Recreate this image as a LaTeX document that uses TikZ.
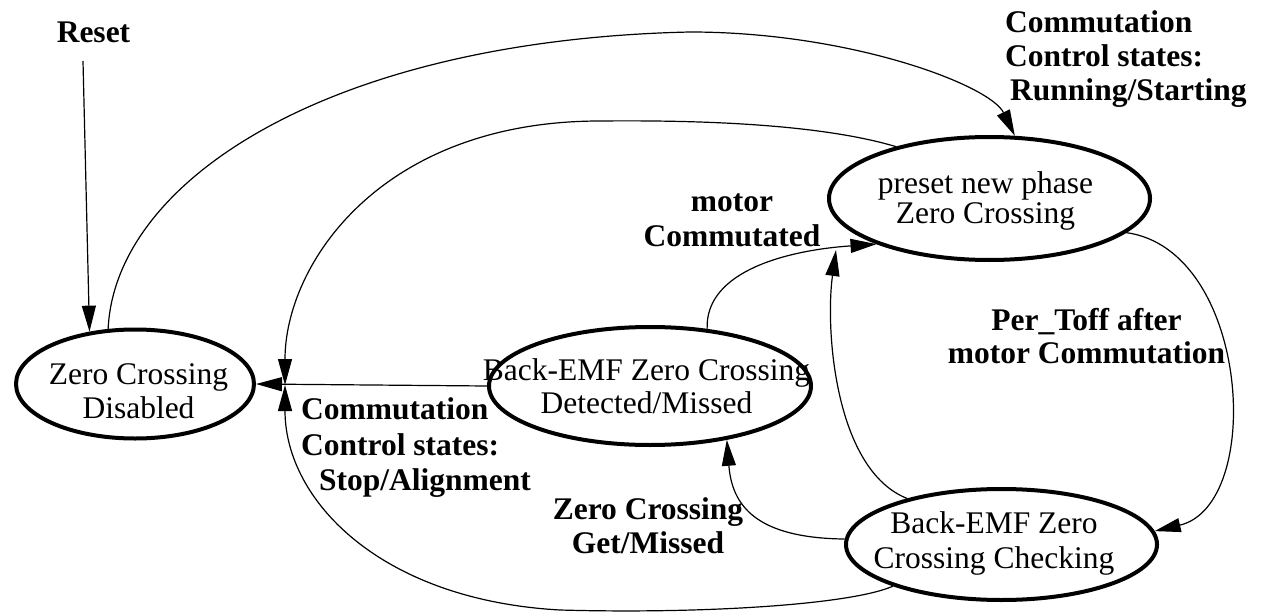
\documentclass[tikz,border=0pt]{standalone}
\usepackage{fontspec}
\setmainfont{Liberation Serif}
\usetikzlibrary{arrows.meta,shapes.geometric}
\tikzset{
  state/.style={ellipse, draw, line width=4pt, inner sep=0pt},
  txt/.style={inner sep=0pt, align=center, font=\fontsize{31.5}{#1}\selectfont},
  txt/.default=34,
  lbl/.style={inner sep=0pt, align=center, font=\fontsize{31.5}{#1}\selectfont\bfseries},
  lbl/.default=34,
  conn/.style={line width=1.2pt, -{Triangle[length=26pt,width=14pt]}},
}
\begin{document}
\begin{tikzpicture}[x=1pt,y=-1pt]
\useasboundingbox (0,0) rectangle (1261,615);
% states
\node[state, minimum width=238pt, minimum height=109pt] (Z) at (135,384) {};
\node[state, minimum width=322pt, minimum height=118pt] (D) at (650,386) {};
\node[state, minimum width=321pt, minimum height=123pt] (P) at (989.5,198.5) {};
\node[state, minimum width=311pt, minimum height=111pt] (C) at (1001.5,544.5) {};
% state texts
\node[txt] (Zt) at (138.5,391) {Zero Crossing\\Disabled};
\node[txt=30] (Pt) at (985.5,200.7) {preset new phase\\Zero Crossing};
\node[txt=33] (Dt) at (646.5,386) {Back-EMF Zero Crossing\\Detected/Missed};
\node[txt=35] (Ct) at (994,543) {Back-EMF Zero\\Crossing Checking};
% labels
\node[lbl] (reset) at (93.5,32.4) {Reset};
\node[lbl, align=left, anchor=west] (lrun) at (1005,58.6) {Commutation\\Control states:\\\hspace*{5pt}Running/Starting};
\node[lbl=35.5, align=left, anchor=west] (lstop) at (301,448) {Commutation\\Control states:\\\hspace*{18pt}Stop/Alignment};
\node[lbl=35] (lmotor) at (732,220.5) {motor\\Commutated};
\node[lbl=33] (lper) at (1086.5,335.7) {Per\_Toff after\\motor Commutation};
\node[lbl] (lzc) at (648,525.4) {Zero Crossing\\Get/Missed};
% free ends
\coordinate (r0) at (83,61);
\coordinate (j) at (285,385);
\coordinate (m) at (836,250);
% connectors
\draw[conn] (r0) -- (Z.131);
\draw[conn] (Z.116) .. controls (115,180) and (330,40) .. (690,32)
            .. controls (850,32) and (990,85) .. (P.68);
\draw[conn] (P.151) .. controls (820,124) and (700,120) .. (600,121)
            .. controls (380,121) and (285,265) .. (j);
\draw[conn] (D.west) -- (Z.east);
\draw[conn] (C.201) .. controls (850,605) and (700,614) .. (560,610)
            .. controls (380,600) and (285,500) .. (j);
\draw[conn] (D.45) .. controls (705,270) and (790,250) .. (P.202);
\draw[conn] (C.154) .. controls (835,470) and (825,330) .. (m);
\draw[conn] (P.346) .. controls (1250,250) and (1265,505) .. (C.5);
\draw[conn] (C.178) .. controls (755,538) and (732,505) .. (D.325);
\end{tikzpicture}
\end{document}
